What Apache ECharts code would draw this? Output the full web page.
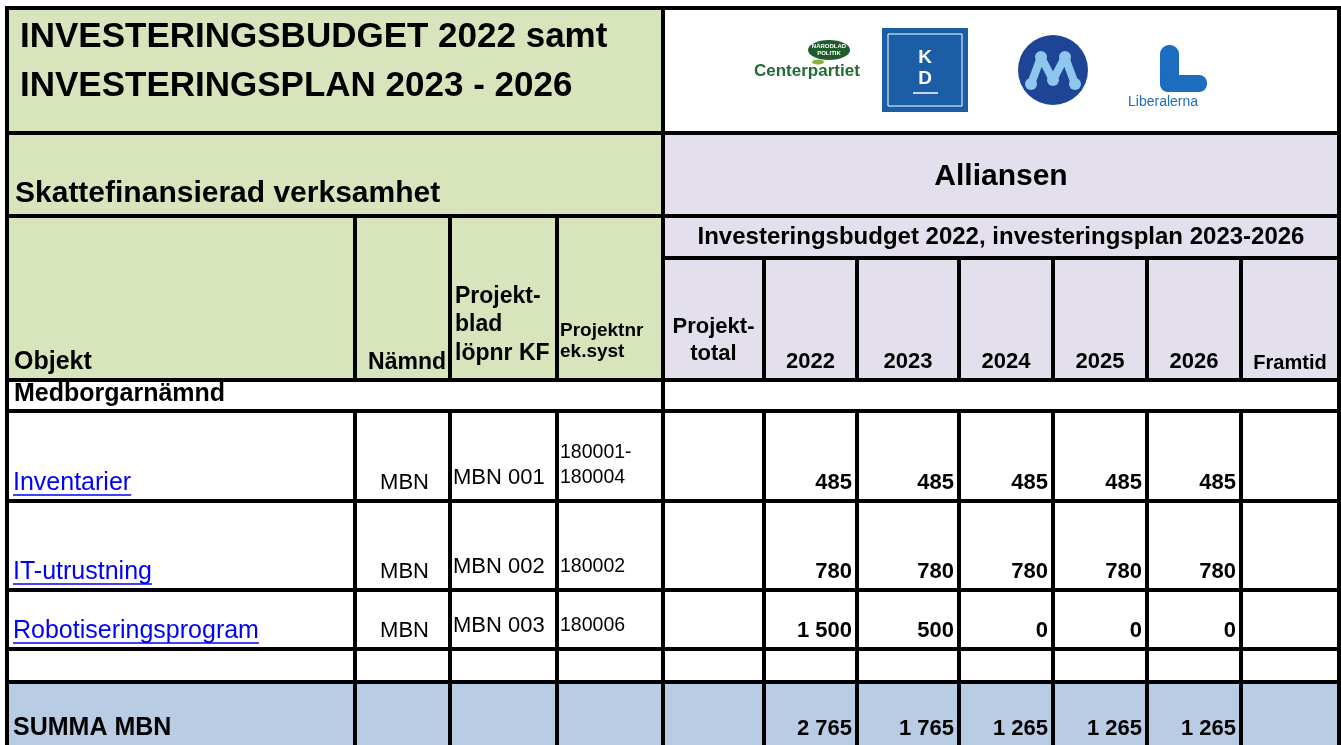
<!DOCTYPE html>
<html>
<head>
<meta charset="utf-8">
<title>Investeringsbudget 2022</title>
<script src="https://cdn.jsdelivr.net/npm/echarts@6/dist/echarts.min.js"></script>
<style>
html, body { margin: 0; padding: 0; background: #fff; }
#main { width: 1341px; height: 745px; }
</style>
</head>
<body>
<div id="main"></div>
<script>
// --- data ---
var years = ['2022', '2023', '2024', '2025', '2026'];
var objekt = ['Inventarier', 'IT-utrustning', 'Robotiseringsprogram'];
var namnd = ['MBN', 'MBN', 'MBN'];
var projektblad = ['MBN 001', 'MBN 002', 'MBN 003'];
var projektnr = [['180001-', '180004'], ['180002'], ['180006']];
var inventarier = [485, 485, 485, 485, 485];
var itUtrustning = [780, 780, 780, 780, 780];
var robotisering = [1500, 500, 0, 0, 0];
var summaMBN = [2765, 1765, 1265, 1265, 1265];
var rowValues = [inventarier, itUtrustning, robotisering];

// --- layout (grid lines of the sheet) ---
var colEdges = [7, 355, 450, 557, 663, 764, 857, 959, 1053, 1147, 1241, 1339];
var rowEdges = [8, 133, 216, 258, 380, 411, 501, 590, 649, 682, 750];

var FONT = '"Liberation Sans", Arial, sans-serif';
var GREEN = '#d8e4bc', LILAC = '#e4dfec', BLUE = '#b8cce4', WHITE = '#ffffff';

function fmt(v) {
  return String(v).replace(/\B(?=(\d{3})+(?!\d))/g, ' ');
}

var cells = [];
function cell(c0, c1, r0, r1, fill, texts) {
  cells.push({ c0: c0, c1: c1, r0: r0, r1: r1, fill: fill, texts: texts || [] });
}

// top block
cell(0, 4, 0, 1, GREEN, [
  { s: 'INVESTERINGSBUDGET 2022 samt', ax: 'l', pad: 13, bb: 83, fs: 35, bold: true },
  { s: 'INVESTERINGSPLAN 2023 - 2026', ax: 'l', pad: 13, bb: 34, fs: 35, bold: true }
]);
cell(4, 11, 0, 1, WHITE);
cell(0, 4, 1, 2, GREEN, [{ s: 'Skattefinansierad verksamhet', ax: 'l', pad: 8, bb: 12, fs: 30, bold: true }]);
cell(4, 11, 1, 2, LILAC, [{ s: 'Alliansen', ax: 'c', bb: 29, fs: 30, bold: true }]);

// headers
cell(0, 1, 2, 4, GREEN, [{ s: 'Objekt', ax: 'l', pad: 7, bb: 9, fs: 25, bold: true }]);
cell(1, 2, 2, 4, GREEN, [{ s: 'Nämnd', ax: 'r', pad: 4, bb: 9, fs: 23, bold: true }]);
cell(2, 3, 2, 4, GREEN, [
  { s: 'Projekt-', ax: 'l', pad: 5, bb: 75, fs: 23, bold: true },
  { s: 'blad', ax: 'l', pad: 5, bb: 47, fs: 23, bold: true },
  { s: 'löpnr KF', ax: 'l', pad: 5, bb: 18, fs: 23, bold: true }
]);
cell(3, 4, 2, 4, GREEN, [
  { s: 'Projektnr', ax: 'l', pad: 3, bb: 43, fs: 19, bold: true },
  { s: 'ek.syst', ax: 'l', pad: 3, bb: 22, fs: 19, bold: true }
]);
cell(4, 11, 2, 3, LILAC, [{ s: 'Investeringsbudget 2022, investeringsplan 2023-2026', ax: 'c', bb: 12, fs: 24, bold: true }]);
cell(4, 5, 3, 4, LILAC, [
  { s: 'Projekt-', ax: 'c', bb: 45, fs: 22, bold: true },
  { s: 'total', ax: 'c', bb: 18, fs: 22, bold: true }
]);
years.forEach(function (y, i) {
  cell(5 + i, 6 + i, 3, 4, LILAC, [{ s: y, ax: 'c', bb: 10, fs: 22, bold: true }]);
});
cell(10, 11, 3, 4, LILAC, [{ s: 'Framtid', ax: 'c', bb: 10, fs: 20, bold: true }]);

// section row
cell(0, 4, 4, 5, WHITE, [{ s: 'Medborgarnämnd', ax: 'l', pad: 7, bb: 8, fs: 25, bold: true }]);
cell(4, 11, 4, 5, WHITE);

// project rows
objekt.forEach(function (name, i) {
  var r = 5 + i;
  cell(0, 1, r, r + 1, WHITE, [{ s: name, ax: 'l', pad: 6, bb: 9, fs: 25, color: '#0000ff', ul: true }]);
  cell(1, 2, r, r + 1, WHITE, [{ s: namnd[i], ax: 'r', pad: 21, bb: 10, fs: 22 }]);
  cell(2, 3, r, r + 1, WHITE, [{ s: projektblad[i], ax: 'l', pad: 3, bb: 15, fs: 22 }]);
  var nr = projektnr[i];
  cell(3, 4, r, r + 1, WHITE, nr.map(function (s, k) {
    return { s: s, ax: 'l', pad: 3, bb: 17 + (nr.length - 1 - k) * 25, fs: 19.5 };
  }));
  cell(4, 5, r, r + 1, WHITE);
  rowValues[i].forEach(function (v, k) {
    cell(5 + k, 6 + k, r, r + 1, WHITE, [{ s: fmt(v), ax: 'r', pad: 5, bb: 10, fs: 22, bold: true }]);
  });
  cell(10, 11, r, r + 1, WHITE);
});

// empty row
for (var c = 0; c < 11; c++) cell(c, c + 1, 8, 9, WHITE);

// sum row
cell(0, 1, 9, 10, BLUE, [{ s: 'SUMMA MBN', ax: 'l', pad: 6, bb: 13, fs: 25, bold: true }]);
for (var c2 = 1; c2 < 5; c2++) cell(c2, c2 + 1, 9, 10, BLUE);
summaMBN.forEach(function (v, k) {
  cell(5 + k, 6 + k, 9, 10, BLUE, [{ s: fmt(v), ax: 'r', pad: 5, bb: 13, fs: 22, bold: true }]);
});
cell(10, 11, 9, 10, BLUE);

var measureCtx = document.createElement('canvas').getContext('2d');

function renderCell(params, api) {
  var cl = cells[api.value(4)];
  var p0 = api.coord([api.value(0), api.value(1)]);
  var p1 = api.coord([api.value(2), api.value(3)]);
  var x0 = p0[0], y0 = p0[1], x1 = p1[0], y1 = p1[1];
  var children = [{
    type: 'rect',
    shape: { x: x0, y: y0, width: x1 - x0, height: y1 - y0 },
    style: { fill: cl.fill, stroke: '#000', lineWidth: 4 }
  }];
  cl.texts.forEach(function (t) {
    var font = (t.bold ? 'bold ' : '') + t.fs + 'px ' + FONT;
    var x = t.ax === 'l' ? x0 + t.pad : t.ax === 'r' ? x1 - t.pad : (x0 + x1) / 2;
    var base = y1 - t.bb;
    children.push({
      type: 'text',
      style: {
        text: t.s, x: x, y: base - t.fs * 0.35, font: font,
        fill: t.color || '#000',
        align: { l: 'left', c: 'center', r: 'right' }[t.ax],
        verticalAlign: 'middle'
      }
    });
    if (t.ul) {
      measureCtx.font = font;
      var w = measureCtx.measureText(t.s).width;
      children.push({
        type: 'line',
        shape: { x1: x, y1: base + 3, x2: x + w, y2: base + 3 },
        style: { stroke: t.color, lineWidth: 1.6 }
      });
    }
  });
  return { type: 'group', children: children };
}

var chart = echarts.init(document.getElementById('main'));

var mPoints = [[1031, 84], [1041, 57], [1053, 80], [1065, 57], [1075, 84]];

var option = {
  animation: false,
  backgroundColor: '#fff',
  grid: { left: 0, right: 0, top: 0, bottom: 0 },
  xAxis: { type: 'value', min: 0, max: 1341, show: false },
  yAxis: { type: 'value', min: 0, max: 745, inverse: true, show: false },
  graphic: [
    // Centerpartiet
    { type: 'ellipse', shape: { cx: 829, cy: 50, rx: 21, ry: 10 }, style: { fill: '#1f5c2c' }, z: 10 },
    { type: 'ellipse', shape: { cx: 818, cy: 62, rx: 6, ry: 2.5 }, style: { fill: '#86b43c' }, z: 10 },
    { type: 'text', style: { text: 'NÄRODLAD', x: 829, y: 46, font: 'bold 6px ' + FONT, fill: '#fff', align: 'center', verticalAlign: 'middle' }, z: 11 },
    { type: 'text', style: { text: 'POLITIK', x: 829, y: 53, font: 'bold 6px ' + FONT, fill: '#fff', align: 'center', verticalAlign: 'middle' }, z: 11 },
    { type: 'text', style: { text: 'Centerpartiet', x: 754, y: 71, font: 'bold 17px ' + FONT, fill: '#226b34', align: 'left', verticalAlign: 'middle' }, z: 10 },
    // KD
    { type: 'rect', shape: { x: 882, y: 28, width: 86, height: 84 }, style: { fill: '#1b5ea6' }, z: 10 },
    { type: 'rect', shape: { x: 888, y: 34, width: 74, height: 72 }, style: { fill: null, stroke: '#fff', lineWidth: 1 }, z: 11 },
    { type: 'text', style: { text: 'K', x: 925, y: 58, font: 'bold 19px ' + FONT, fill: '#fff', align: 'center', verticalAlign: 'middle' }, z: 11 },
    { type: 'text', style: { text: 'D', x: 925, y: 79, font: 'bold 19px ' + FONT, fill: '#fff', align: 'center', verticalAlign: 'middle' }, z: 11 },
    { type: 'line', shape: { x1: 913, y1: 93, x2: 938, y2: 93 }, style: { stroke: '#fff', lineWidth: 1.5 }, z: 11 },
    // Moderaterna
    { type: 'circle', shape: { cx: 1053, cy: 70, r: 35 }, style: { fill: '#1e4595' }, z: 10 },
    { type: 'polyline', shape: { points: mPoints }, style: { stroke: '#8fc6ee', lineWidth: 8, fill: null, lineJoin: 'round' }, z: 11 }
  ].concat(mPoints.map(function (p) {
    return { type: 'circle', shape: { cx: p[0], cy: p[1], r: 6 }, style: { fill: '#8fc6ee' }, z: 12 };
  })).concat([
    // Liberalerna
    { type: 'rect', shape: { x: 1160, y: 45, width: 19, height: 47, r: 9 }, style: { fill: '#1c6cc0' }, z: 10 },
    { type: 'rect', shape: { x: 1160, y: 75, width: 47, height: 17, r: 8 }, style: { fill: '#1c6cc0' }, z: 10 },
    { type: 'text', style: { text: 'Liberalerna', x: 1128, y: 102, font: '14px ' + FONT, fill: '#1c6cc0', align: 'left', verticalAlign: 'middle' }, z: 10 }
  ]),
  series: [{
    type: 'custom',
    renderItem: renderCell,
    encode: { x: [0, 2], y: [1, 3] },
    data: cells.map(function (cl, i) {
      return [colEdges[cl.c0], rowEdges[cl.r0], colEdges[cl.c1], rowEdges[cl.r1], i];
    }),
    silent: true
  }]
};

chart.setOption(option);
</script>
</body>
</html>
